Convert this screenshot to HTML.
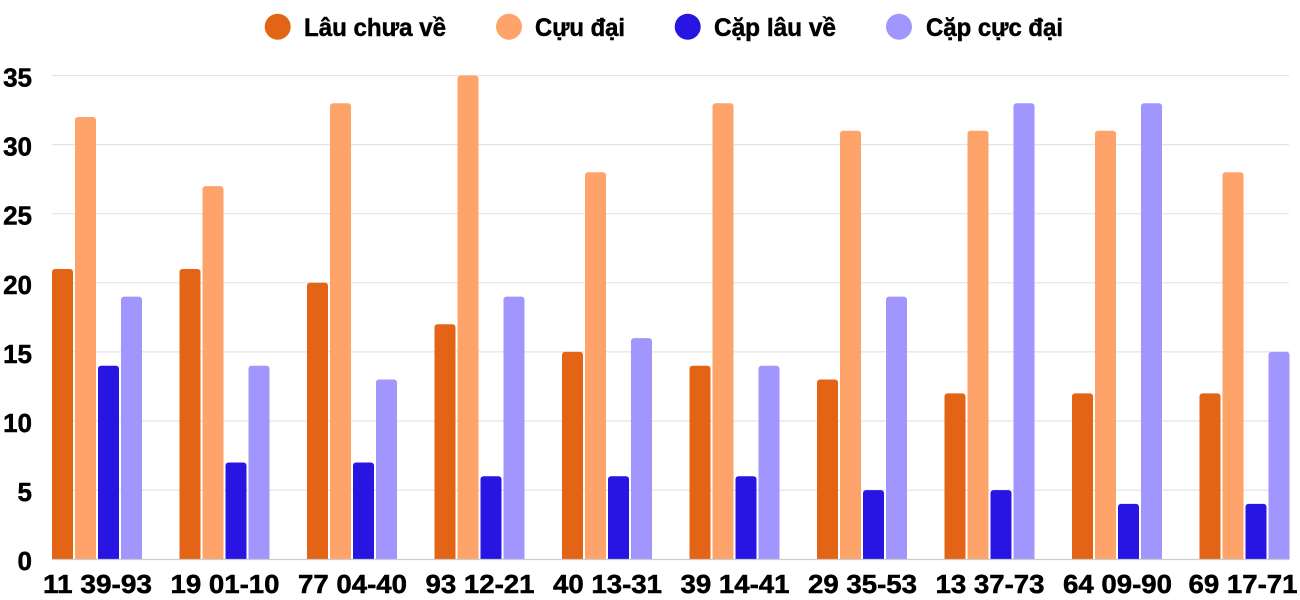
<!DOCTYPE html>
<html><head><meta charset="utf-8"><style>
html,body{margin:0;padding:0;background:#fff;width:1300px;height:600px;overflow:hidden;}
svg{display:block;}
text{font-family:"Liberation Sans",Arial,sans-serif;font-weight:bold;fill:#000;stroke:#000;stroke-width:0.5;}
</style></head><body>
<svg width="1300" height="600" viewBox="0 0 1300 600" xmlns="http://www.w3.org/2000/svg">
<rect width="1300" height="600" fill="#fff"/>
<!-- legend -->
<circle cx="277.7" cy="26.7" r="13" fill="#E36414"/>
<text x="304" y="36" font-size="25" textLength="142" lengthAdjust="spacingAndGlyphs">Lâu chưa về</text>
<circle cx="509" cy="26.7" r="13" fill="#FEA36A"/>
<text x="535" y="36" font-size="25" textLength="90" lengthAdjust="spacingAndGlyphs">Cựu đại</text>
<circle cx="687.7" cy="26.7" r="13" fill="#2815E2"/>
<text x="714" y="36" font-size="25" textLength="122" lengthAdjust="spacingAndGlyphs">Cặp lâu về</text>
<circle cx="899" cy="26.7" r="13" fill="#A196FE"/>
<text x="926" y="36" font-size="25" textLength="137" lengthAdjust="spacingAndGlyphs">Cặp cực đại</text>
<!-- grid -->
<g stroke="#e4e4e4" stroke-width="1.2">
<line x1="52" x2="1289" y1="75.5" y2="75.5"/>
<line x1="52" x2="1289" y1="144.6" y2="144.6"/>
<line x1="52" x2="1289" y1="213.7" y2="213.7"/>
<line x1="52" x2="1289" y1="282.8" y2="282.8"/>
<line x1="52" x2="1289" y1="351.9" y2="351.9"/>
<line x1="52" x2="1289" y1="421" y2="421"/>
<line x1="52" x2="1289" y1="490.1" y2="490.1"/>
</g>
<!-- y labels -->
<g font-size="26" text-anchor="end">
<text x="32" y="86.5">35</text>
<text x="32" y="155.6">30</text>
<text x="32" y="224.7">25</text>
<text x="32" y="293.8">20</text>
<text x="32" y="362.9">15</text>
<text x="32" y="432">10</text>
<text x="32" y="501.1">5</text>
<text x="32" y="570.2">0</text>
</g>
<!-- bars -->
<g fill="#E36414">
<rect x="52" y="269" width="21" height="290.5" rx="3"/>
<rect x="179.5" y="269" width="21" height="290.5" rx="3"/>
<rect x="307" y="282.8" width="21" height="276.7" rx="3"/>
<rect x="434.5" y="324.3" width="21" height="235.2" rx="3"/>
<rect x="562" y="351.9" width="21" height="207.6" rx="3"/>
<rect x="689.5" y="365.7" width="21" height="193.8" rx="3"/>
<rect x="817" y="379.5" width="21" height="180" rx="3"/>
<rect x="944.5" y="393.4" width="21" height="166.1" rx="3"/>
<rect x="1072" y="393.4" width="21" height="166.1" rx="3"/>
<rect x="1199.5" y="393.4" width="21" height="166.1" rx="3"/>
</g>
<g fill="#FEA36A">
<rect x="75" y="117" width="21" height="442.5" rx="3"/>
<rect x="202.5" y="186.1" width="21" height="373.4" rx="3"/>
<rect x="330" y="103.2" width="21" height="456.3" rx="3"/>
<rect x="457.5" y="75.5" width="21" height="484" rx="3"/>
<rect x="585" y="172.2" width="21" height="387.3" rx="3"/>
<rect x="712.5" y="103.2" width="21" height="456.3" rx="3"/>
<rect x="840" y="130.8" width="21" height="428.7" rx="3"/>
<rect x="967.5" y="130.8" width="21" height="428.7" rx="3"/>
<rect x="1095" y="130.8" width="21" height="428.7" rx="3"/>
<rect x="1222.5" y="172.2" width="21" height="387.3" rx="3"/>
</g>
<g fill="#2815E2">
<rect x="98" y="365.7" width="21" height="193.8" rx="3"/>
<rect x="225.5" y="462.5" width="21" height="97" rx="3"/>
<rect x="353" y="462.5" width="21" height="97" rx="3"/>
<rect x="480.5" y="476.3" width="21" height="83.2" rx="3"/>
<rect x="608" y="476.3" width="21" height="83.2" rx="3"/>
<rect x="735.5" y="476.3" width="21" height="83.2" rx="3"/>
<rect x="863" y="490.1" width="21" height="69.4" rx="3"/>
<rect x="990.5" y="490.1" width="21" height="69.4" rx="3"/>
<rect x="1118" y="503.9" width="21" height="55.6" rx="3"/>
<rect x="1245.5" y="503.9" width="21" height="55.6" rx="3"/>
</g>
<g fill="#A196FE">
<rect x="121" y="296.6" width="21" height="262.9" rx="3"/>
<rect x="248.5" y="365.7" width="21" height="193.8" rx="3"/>
<rect x="376" y="379.5" width="21" height="180" rx="3"/>
<rect x="503.5" y="296.6" width="21" height="262.9" rx="3"/>
<rect x="631" y="338.1" width="21" height="221.4" rx="3"/>
<rect x="758.5" y="365.7" width="21" height="193.8" rx="3"/>
<rect x="886" y="296.6" width="21" height="262.9" rx="3"/>
<rect x="1013.5" y="103.2" width="21" height="456.3" rx="3"/>
<rect x="1141" y="103.2" width="21" height="456.3" rx="3"/>
<rect x="1268.5" y="351.9" width="21" height="207.6" rx="3"/>
</g>
<!-- square off bottom corners -->
<g>
<rect x="52" y="552" width="90" height="7.5" fill="none"/>
</g>
<g fill="#E36414">
<rect x="52" y="552" width="21" height="7.5"/><rect x="179.5" y="552" width="21" height="7.5"/><rect x="307" y="552" width="21" height="7.5"/><rect x="434.5" y="552" width="21" height="7.5"/><rect x="562" y="552" width="21" height="7.5"/><rect x="689.5" y="552" width="21" height="7.5"/><rect x="817" y="552" width="21" height="7.5"/><rect x="944.5" y="552" width="21" height="7.5"/><rect x="1072" y="552" width="21" height="7.5"/><rect x="1199.5" y="552" width="21" height="7.5"/>
</g>
<g fill="#FEA36A">
<rect x="75" y="552" width="21" height="7.5"/><rect x="202.5" y="552" width="21" height="7.5"/><rect x="330" y="552" width="21" height="7.5"/><rect x="457.5" y="552" width="21" height="7.5"/><rect x="585" y="552" width="21" height="7.5"/><rect x="712.5" y="552" width="21" height="7.5"/><rect x="840" y="552" width="21" height="7.5"/><rect x="967.5" y="552" width="21" height="7.5"/><rect x="1095" y="552" width="21" height="7.5"/><rect x="1222.5" y="552" width="21" height="7.5"/>
</g>
<g fill="#2815E2">
<rect x="98" y="552" width="21" height="7.5"/><rect x="225.5" y="552" width="21" height="7.5"/><rect x="353" y="552" width="21" height="7.5"/><rect x="480.5" y="552" width="21" height="7.5"/><rect x="608" y="552" width="21" height="7.5"/><rect x="735.5" y="552" width="21" height="7.5"/><rect x="863" y="552" width="21" height="7.5"/><rect x="990.5" y="552" width="21" height="7.5"/><rect x="1118" y="552" width="21" height="7.5"/><rect x="1245.5" y="552" width="21" height="7.5"/>
</g>
<g fill="#A196FE">
<rect x="121" y="552" width="21" height="7.5"/><rect x="248.5" y="552" width="21" height="7.5"/><rect x="376" y="552" width="21" height="7.5"/><rect x="503.5" y="552" width="21" height="7.5"/><rect x="631" y="552" width="21" height="7.5"/><rect x="758.5" y="552" width="21" height="7.5"/><rect x="886" y="552" width="21" height="7.5"/><rect x="1013.5" y="552" width="21" height="7.5"/><rect x="1141" y="552" width="21" height="7.5"/><rect x="1268.5" y="552" width="21" height="7.5"/>
</g>
<line x1="52" x2="1289" y1="559.5" y2="559.5" stroke="#cccccc" stroke-width="1.2"/>
<!-- x labels -->
<g font-size="26" text-anchor="middle">
<text x="97.5" y="593" textLength="109" lengthAdjust="spacingAndGlyphs">11 39-93</text>
<text x="225" y="593" textLength="109" lengthAdjust="spacingAndGlyphs">19 01-10</text>
<text x="352.5" y="593" textLength="109" lengthAdjust="spacingAndGlyphs">77 04-40</text>
<text x="480" y="593" textLength="109" lengthAdjust="spacingAndGlyphs">93 12-21</text>
<text x="607.5" y="593" textLength="109" lengthAdjust="spacingAndGlyphs">40 13-31</text>
<text x="735" y="593" textLength="109" lengthAdjust="spacingAndGlyphs">39 14-41</text>
<text x="862.5" y="593" textLength="109" lengthAdjust="spacingAndGlyphs">29 35-53</text>
<text x="990" y="593" textLength="109" lengthAdjust="spacingAndGlyphs">13 37-73</text>
<text x="1117.5" y="593" textLength="109" lengthAdjust="spacingAndGlyphs">64 09-90</text>
<text x="1243" y="593" textLength="109" lengthAdjust="spacingAndGlyphs">69 17-71</text>
</g>
</svg>
</body></html>
